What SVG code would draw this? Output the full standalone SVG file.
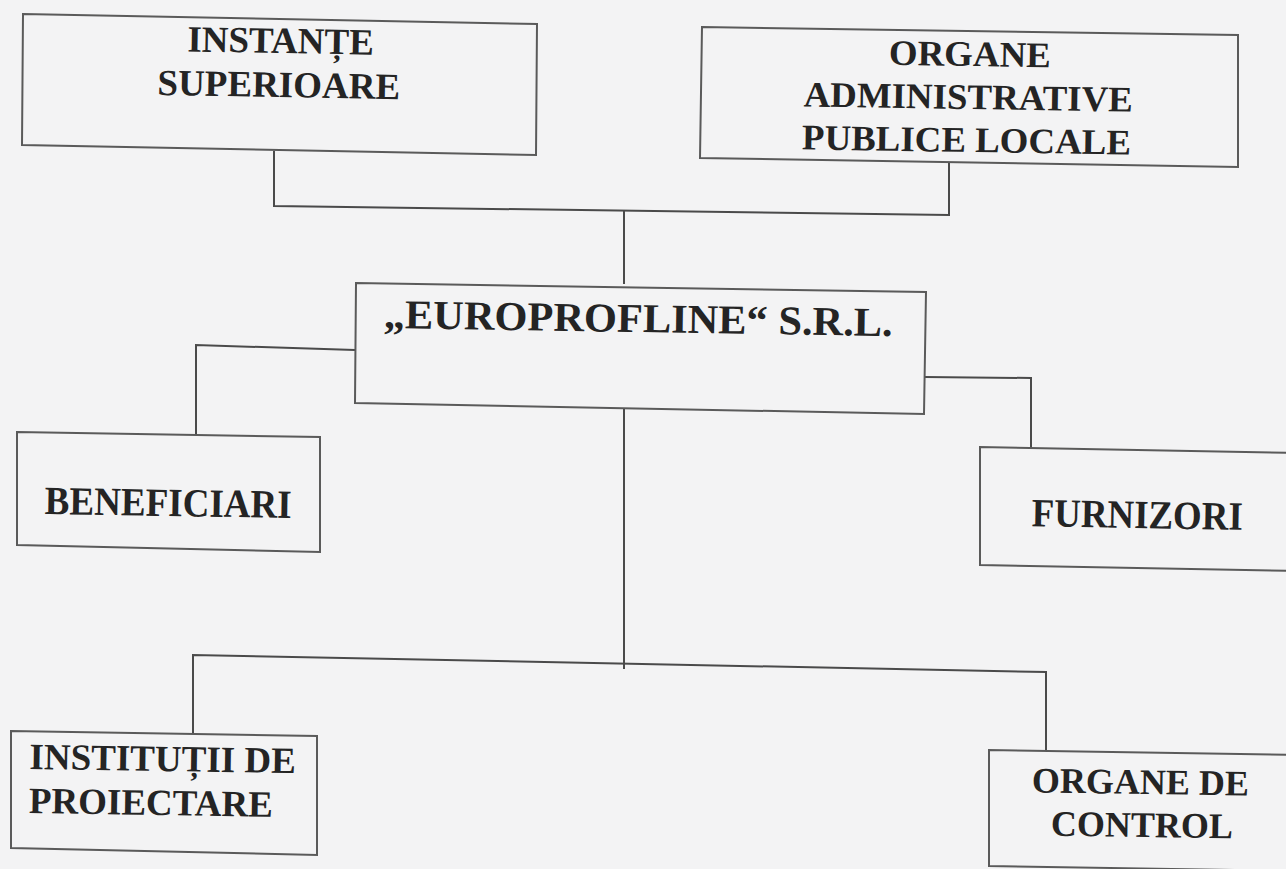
<svg xmlns="http://www.w3.org/2000/svg" width="1286" height="869" viewBox="0 0 1286 869">
<style>
.bg{fill:#f3f3f4}
.box{fill:none;stroke:#5a5a5a;stroke-width:2;stroke-linejoin:miter}
.ln{fill:none;stroke:#4a4a4a;stroke-width:2}
text{font-family:"Liberation Serif","Times New Roman",serif;font-weight:bold;fill:#242424;text-anchor:middle}
.l{text-anchor:start}
</style>
<rect class="bg" x="0" y="0" width="1286" height="869"/>
<g id="connectors">
<polyline class="ln" points="274,151 274,206 949,215 949,162"/>
<polyline class="ln" points="624,211 624,284"/>
<polyline class="ln" points="355,350 196,345 196,435"/>
<polyline class="ln" points="925,377 1031,378 1031,448"/>
<polyline class="ln" points="624,408 624,669"/>
<polyline class="ln" points="193,733 193,655 1046,672 1046,751"/>
</g>
<g id="instante-superioare">
<polygon class="box" points="23,14 537,24 536,155 22,145"/>
<g transform="rotate(1 279 75)">
<text font-size="37"><tspan x="280" y="53">INSTANȚE</tspan><tspan x="279" y="97">SUPERIOARE</tspan></text>
</g>
</g>
<g id="organe-administrative">
<polygon class="box" points="702,27 1238,35 1238,167 700,158"/>
<g transform="rotate(0.9 969 110) translate(968 0) scale(1.025 1) translate(-968 0)">
<text font-size="36"><tspan x="969" y="66">ORGANE</tspan><tspan x="968" y="109">ADMINISTRATIVE</tspan><tspan x="967" y="152">PUBLICE LOCALE</tspan></text>
</g>
</g>
<g id="europrofline">
<polygon class="box" points="356,283 926,292 924,414 355,403"/>
<g transform="rotate(0.9 638 332)">
<text x="638" y="332" font-size="41" textLength="509" lengthAdjust="spacingAndGlyphs">„EUROPROFLINE“ S.R.L.</text>
</g>
</g>
<g id="beneficiari">
<polygon class="box" points="17,432 320,437 320,552 17,545"/>
<g transform="rotate(0.9 168 516)">
<text x="168" y="516" font-size="40" textLength="247" lengthAdjust="spacingAndGlyphs">BENEFICIARI</text>
</g>
</g>
<g id="furnizori">
<polygon class="box" points="1296,453 980,447 980,565 1296,571"/>
<g transform="rotate(1 1137 528)">
<text x="1137" y="528" font-size="40" textLength="211" lengthAdjust="spacingAndGlyphs">FURNIZORI</text>
</g>
</g>
<g id="institutii-proiectare">
<polygon class="box" points="11,731 317,736 317,855 11,848"/>
<g transform="rotate(0.9 160 793)">
<text class="l" font-size="37"><tspan x="29" y="771">INSTITUȚII DE</tspan><tspan x="29" y="815">PROIECTARE</tspan></text>
</g>
</g>
<g id="organe-control">
<polygon class="box" points="1296,755 989,750 989,866 1296,871"/>
<g transform="rotate(0.8 1141 813)">
<text font-size="36"><tspan x="1140" y="794">ORGANE DE</tspan><tspan x="1142" y="837">CONTROL</tspan></text>
</g>
</g>
</svg>
